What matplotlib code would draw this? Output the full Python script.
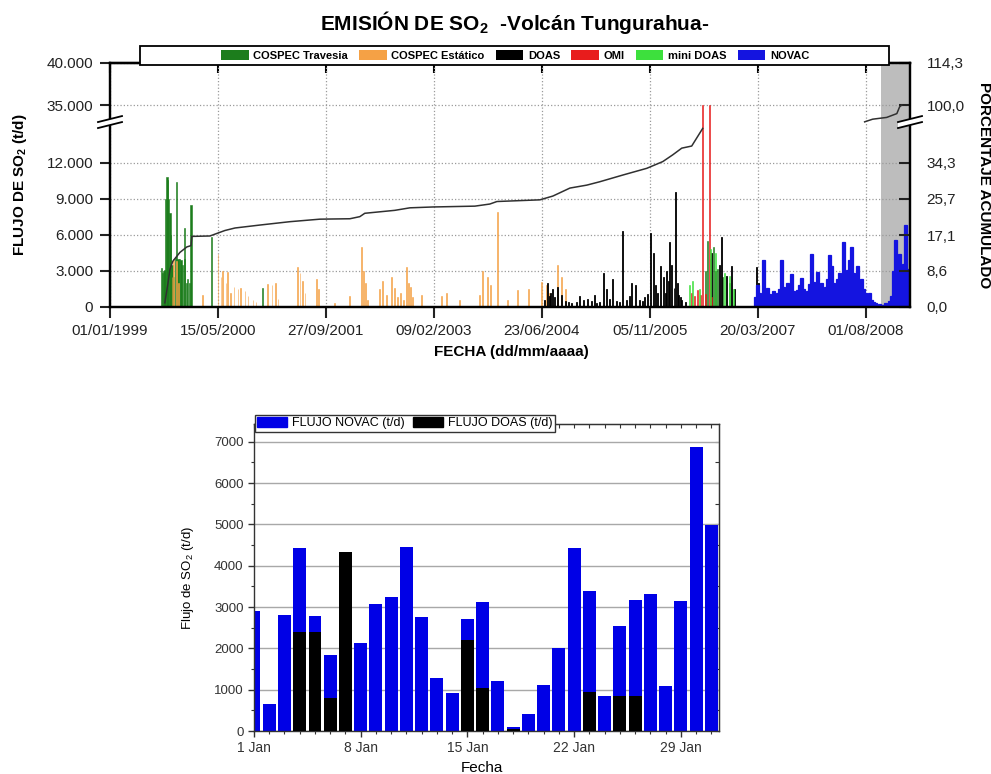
import numpy as np
import pandas as pd
import matplotlib
matplotlib.use('Agg')
import matplotlib.pyplot as plt
import matplotlib.dates as mdates
from matplotlib.patches import Patch, Rectangle, Polygon
from matplotlib.ticker import FixedLocator, MultipleLocator, NullFormatter

plt.rcParams['font.family'] = ['Liberation Sans', 'DejaVu Sans']
plt.rcParams['mathtext.fontset'] = 'custom'
plt.rcParams['mathtext.rm'] = 'Liberation Sans'
plt.rcParams['mathtext.bf'] = 'Liberation Sans:bold'
plt.rcParams['mathtext.it'] = 'Liberation Sans:italic'

# ---------------- serie historica (t/d) ----------------
travesia_fechas = ['1999-08-29', '1999-09-03', '1999-09-08', '1999-09-12', '1999-09-17', '1999-09-22',
                   '1999-09-26', '1999-10-01', '1999-10-06', '1999-10-10', '1999-10-15', '1999-10-24',
                   '1999-10-30', '1999-11-05', '1999-11-12', '1999-11-19', '1999-11-26', '1999-12-03',
                   '1999-12-10', '1999-12-14', '1999-12-20', '1999-12-28', '2000-01-06', '2000-01-11',
                   '2000-04-17', '2000-12-09', '2006-07-22', '2006-07-31', '2006-08-14', '2006-08-28',
                   '2006-09-16', '2006-10-09', '2006-11-10']
travesia_flujo = [3250, 2800, 3000, 3100, 9000, 10800, 10600, 9000, 7800, 6000, 3500, 2500,
                  4200, 10400, 4000, 4000, 3900, 3500, 6600, 4000, 2000, 2300, 2000, 8500,
                  5800, 1600, 3000, 5500, 4000, 5000, 3200, 2500, 2000]

estatico_fechas = ['1999-10-15', '1999-10-24', '1999-11-03', '1999-11-16', '2000-03-06', '2000-05-15',
                   '2000-05-29', '2000-06-07', '2000-06-21', '2000-06-30', '2000-07-14', '2000-07-28',
                   '2000-08-16', '2000-08-29', '2000-09-17', '2000-10-01', '2000-10-24', '2000-11-07',
                   '2001-01-01', '2001-01-20', '2001-02-07', '2001-02-17', '2001-05-20', '2001-05-30',
                   '2001-06-12', '2001-06-22', '2001-08-16', '2001-08-25', '2001-11-07', '2002-01-16',
                   '2002-03-12', '2002-03-22', '2002-03-31', '2002-04-09', '2002-06-04', '2002-06-18',
                   '2002-07-06', '2002-07-29', '2002-08-12', '2002-08-26', '2002-09-09', '2002-09-23',
                   '2002-10-07', '2002-10-16', '2002-10-25', '2002-11-03', '2002-12-15', '2003-03-18',
                   '2003-04-10', '2003-06-09', '2003-09-10', '2003-09-24', '2003-10-17', '2003-10-31',
                   '2003-12-02', '2004-01-17', '2004-03-04', '2004-04-24', '2004-06-23', '2004-07-16',
                   '2004-07-30', '2004-09-05', '2004-09-24', '2004-10-12']
estatico_flujo = [2500, 4000, 3800, 2000, 1000, 4400, 2500, 3000, 2000, 2900, 1200, 1700,
                  1500, 1600, 1300, 900, 600, 400, 1900, 1800, 2000, 700, 3300, 2800,
                  2200, 1200, 2300, 1500, 300, 900, 5000, 3000, 2000, 600, 1500, 2200,
                  1000, 2500, 1600, 800, 1200, 600, 3300, 2000, 1700, 800, 1000, 900,
                  1200, 600, 1000, 3000, 2500, 1800, 7950, 600, 1400, 1500, 2100, 1800,
                  1200, 3500, 2500, 1500]

doas_fechas = ['2004-07-07', '2004-07-21', '2004-07-28', '2004-08-04', '2004-08-13', '2004-08-22',
               '2004-09-05', '2004-09-24', '2004-10-12', '2004-10-25', '2004-11-09', '2004-12-02',
               '2004-12-16', '2005-01-03', '2005-01-22', '2005-02-09', '2005-02-23', '2005-03-05',
               '2005-03-18', '2005-04-06', '2005-04-20', '2005-05-02', '2005-05-18', '2005-06-05',
               '2005-06-18', '2005-07-03', '2005-07-21', '2005-08-01', '2005-08-14', '2005-09-01',
               '2005-09-20', '2005-10-01', '2005-10-13', '2005-10-25', '2005-11-10', '2005-11-23',
               '2005-12-01', '2005-12-12', '2005-12-26', '2006-01-09', '2006-01-16', '2006-01-23',
               '2006-01-30', '2006-02-06', '2006-02-15', '2006-02-25', '2006-03-05', '2006-03-12',
               '2006-03-19', '2006-03-27', '2006-04-02', '2006-04-21', '2006-08-19', '2006-09-07',
               '2006-09-25', '2006-10-04', '2006-10-27', '2006-11-20', '2006-12-03', '2007-03-15',
               '2007-03-25', '2007-04-21']
doas_flujo = [600, 2000, 900, 1200, 1500, 800,
              1700, 1000, 500, 400, 300, 400,
              900, 600, 700, 500, 1000, 300,
              400, 2800, 1500, 700, 2300, 500,
              400, 6300, 600, 900, 2000, 1800,
              600, 500, 800, 1100, 6200, 4500,
              1800, 1200, 3400, 2500, 1200, 3000,
              2200, 5400, 3500, 1600, 9600, 2000,
              1000, 800, 600, 400, 4500, 3000,
              3500, 5800, 2600, 3400, 1500, 3300,
              2000, 3800]

omi_fechas = ['2006-05-18', '2006-06-01', '2006-06-15', '2006-06-29', '2006-07-08', '2006-07-22',
              '2006-08-10', '2006-08-19']
omi_flujo = [1200, 900, 1400, 1000, 35000, 1100, 35000, 800]

minidoas_fechas = ['2006-05-09', '2006-05-23', '2006-06-24', '2006-08-12', '2006-09-06', '2006-10-17',
                   '2006-11-09', '2006-11-28']
minidoas_flujo = [1800, 2200, 1500, 4800, 4500, 2800, 2600, 1500]

novac_inicio, novac_fin = '2007-03-10', '2009-02-20'
novac_flujo = [800, 1800, 1200, 1000, 3900, 1400, 1600, 1100, 900, 1300,
               1000, 1200, 1500, 3900, 1700, 1200, 2000, 1500, 2750, 1300,
               1000, 1400, 1800, 2400, 1500, 1100, 1300, 1900, 4400, 2100,
               1600, 2900, 1500, 2000, 1300, 1700, 2300, 4300, 3400, 2000,
               1600, 2300, 2800, 2000, 5400, 2600, 3100, 3900, 5000, 2800,
               2400, 3400, 2000, 2300, 1500, 1200, 1000, 1200, 600, 400,
               300, 200, 250, 150, 200, 300, 250, 500, 900, 3000,
               5600, 2500, 4400, 3000, 3600, 6850, 3200, 2800]

# porcentaje acumulado (%), dos tramos a cada lado del corte
acum_a_fechas = ['1999-09-12', '1999-09-26', '1999-10-06', '1999-10-19', '1999-11-21', '1999-12-23',
                 '2000-01-11', '2000-01-15', '2000-04-08', '2000-05-15', '2000-06-16', '2000-08-02',
                 '2000-11-25', '2001-04-13', '2001-08-30', '2002-01-16', '2002-03-03', '2002-03-26',
                 '2002-08-12', '2002-10-21', '2003-02-04', '2003-08-18', '2003-10-26', '2003-11-28',
                 '2004-06-14', '2004-08-13', '2004-10-31', '2005-01-17', '2005-03-18', '2005-07-03',
                 '2005-10-22', '2006-01-04', '2006-02-19', '2006-04-02', '2006-05-18', '2006-07-08']
acum_a = [1.0, 5.5, 9.0, 10.9, 13.0, 14.3, 14.6, 16.8, 16.9, 17.6, 18.2, 18.8,
          19.5, 20.3, 20.9, 21.0, 21.5, 22.3, 23.0, 23.6, 23.8, 24.0, 24.5, 25.1,
          25.5, 26.4, 28.3, 29.0, 29.8, 31.4, 33.0, 34.6, 36.2, 37.8, 38.3, 42.5]
acum_b_fechas = ['2008-07-27', '2008-09-02', '2008-11-06', '2008-12-23', '2009-01-05', '2009-01-15']
acum_b = [94.3, 95.2, 95.8, 97.1, 99.4, 100.0]

fechas_ticks = ['01/01/1999', '15/05/2000', '27/09/2001', '09/02/2003',
                '23/06/2004', '05/11/2005', '20/03/2007', '01/08/2008']
flujo_ticks = [0, 3000, 6000, 9000, 12000, 35000, 40000]
flujo_labels = ['0', '3.000', '6.000', '9.000', '12.000', '35.000', '40.000']
pct_ticks = [0, 8.6, 17.1, 25.7, 34.3, 100.0, 114.3]
pct_labels = ['0,0', '8,6', '17,1', '25,7', '34,3', '100,0', '114,3']

series = ['COSPEC Travesia', 'COSPEC Estático', 'DOAS', 'OMI', 'mini DOAS', 'NOVAC']
colores = ['#1c7d1c', '#f5a145', '#000000', '#e81c1c', '#3de03d', '#1414e0']

# ---------------- enero (t/d) ----------------
dias = pd.date_range('2009-01-01', '2009-01-31')
enero_novac = [2900, 650, 2810, 4420, 2785, 1840, 0, 2120, 3075, 3250, 4460, 2750, 1275, 930, 2710,
               3130, 1220, 90, 410, 1115, 2000, 4440, 3400, 850, 2550, 3160, 3325, 1090, 3150, 6870, 4990]
enero_doas = [0, 0, 0, 2400, 2400, 800, 4340, 0, 0, 0, 0, 0, 0, 0, 2200,
              1030, 0, 60, 0, 0, 0, 0, 945, 0, 850, 850, 0, 0, 0, 0, 0]
enero_ticks = ['1 Jan', '8 Jan', '15 Jan', '22 Jan', '29 Jan']


def num(fechas, **kw):
    return mdates.date2num(pd.to_datetime(fechas, **kw))


# eje Y con corte entre 15.400 y 33.000 t/d
B1, B2, EPS, K = 15400.0, 33000.0, 1e-3, 0.7
U0 = B1 + (B2 - B1) * EPS


def fwd(v):
    v = np.asarray(v, dtype=float)
    return np.where(v <= B1, v, np.where(v < B2, B1 + (v - B1) * EPS, U0 + (v - B2) * K))


def inv(u):
    u = np.asarray(u, dtype=float)
    return np.where(u <= B1, u, np.where(u < U0, B1 + (u - B1) / EPS, B2 + (u - U0) / K))


FACTOR = 350.0  # t/d por punto porcentual


def fwd_pct(p):
    return fwd(np.asarray(p, dtype=float) * FACTOR)


def inv_pct(u):
    return inv(u) / FACTOR


fig = plt.figure(figsize=(9.91, 7.74), dpi=100)
fig.patch.set_facecolor('white')

ax = fig.add_axes([110 / 991, 1 - 307 / 774, 800 / 991, 244 / 774])
ax.set_yscale('function', functions=(fwd, inv))
ax.set_ylim(0, 40000)
ax.set_xlim(num('1999-01-01'), num('2009-02-22'))
ax.axvspan(num('2008-10-13'), num('2009-02-22'), color='#bdbdbd', lw=0, zorder=0.3)


def barras(fechas, valores, color, ancho, borde=0.4):
    ax.bar(num(fechas), valores, width=ancho, color=color, edgecolor=color, linewidth=borde, zorder=2)


barras(travesia_fechas, travesia_flujo, colores[0], 5)
barras(estatico_fechas, estatico_flujo, colores[1], 4)
barras(doas_fechas, doas_flujo, colores[2], 4, 0.6)
barras(omi_fechas, omi_flujo, colores[3], 4)
barras(minidoas_fechas, minidoas_flujo, colores[4], 4)
novac_fechas = pd.date_range(novac_inicio, novac_fin, periods=len(novac_flujo))
barras(novac_fechas, novac_flujo, colores[5], 12, 0.9)

ax.xaxis.set_major_locator(FixedLocator(num(fechas_ticks, dayfirst=True)))
ax.set_xticklabels(fechas_ticks)
ax.yaxis.set_major_locator(FixedLocator(flujo_ticks))
ax.yaxis.set_minor_locator(FixedLocator([]))
ax.set_yticklabels(flujo_labels)
ax.grid(True, which='major', ls=':', color='#9a9a9a', lw=0.9)
ax.set_axisbelow(True)
ax.tick_params(axis='y', direction='out', length=7, width=1.5, labelsize=11, pad=5, colors='#222222')
ax.tick_params(axis='x', direction='out', length=8, width=1.5, labelsize=11, pad=4, colors='#222222')
for s in ax.spines.values():
    s.set_linewidth(1.6)

top = ax.secondary_xaxis('top')
top.xaxis.set_major_locator(FixedLocator(num(fechas_ticks, dayfirst=True)))
top.xaxis.set_major_formatter(NullFormatter())
top.tick_params(direction='in', length=7, width=1.5)
top.spines['top'].set_linewidth(1.6)

ax2 = ax.twinx()
ax2.set_yscale('function', functions=(fwd_pct, inv_pct))
ax2.set_ylim(0, 114.3)
ax2.plot(num(acum_a_fechas), acum_a, color='#303030', lw=1.1, zorder=3)
ax2.plot(num(acum_b_fechas), acum_b, color='#303030', lw=1.1, zorder=3)
ax2.yaxis.set_major_locator(FixedLocator(pct_ticks))
ax2.yaxis.set_minor_locator(FixedLocator([]))
ax2.set_yticklabels(pct_labels)
ax2.tick_params(axis='y', direction='in', length=8, width=1.5, labelsize=11, pad=12, colors='#222222')
for s in ax2.spines.values():
    s.set_linewidth(1.6)

# marcas de corte // sobre los ejes
yb = float(fwd(B1) / fwd(40000))
dx, dy, g = 12 / 800, 3 / 244, 3 / 244
for xa in (0.0, 1.0):
    ax2.add_patch(Polygon([[xa - dx, yb - dy - g], [xa + dx, yb + dy - g],
                           [xa + dx, yb + dy + g], [xa - dx, yb - dy + g]],
                          closed=True, transform=ax2.transAxes, facecolor='white',
                          edgecolor='none', clip_on=False, zorder=10))
    for s in (-g, g):
        ax2.plot([xa - dx, xa + dx], [yb - dy + s, yb + dy + s], transform=ax2.transAxes,
                 color='black', lw=1.3, clip_on=False, zorder=11)

fig.add_artist(Rectangle((140 / 991, 1 - 65 / 774), 749 / 991, 19 / 774, transform=fig.transFigure,
                         facecolor='white', edgecolor='black', lw=1.3, zorder=4))
fig.legend(handles=[Patch(facecolor=c, edgecolor='none', label=l) for c, l in zip(colores, series)],
           loc='center', bbox_to_anchor=(515 / 991, 1 - 55.5 / 774), ncol=6, frameon=False,
           prop=dict(weight='bold', size=8), handlelength=2.5, handleheight=0.9,
           handletextpad=0.4, columnspacing=1.0, borderpad=0, borderaxespad=0)

fig.text(515 / 991, 1 - 22 / 774, r'EMISIÓN DE SO$_\mathbf{2}$  -Volcán Tungurahua-',
         ha='center', va='center', fontsize=15, weight='bold')
fig.text(20 / 991, 1 - 185 / 774, r'FLUJO DE SO$_\mathbf{2}$ (t/d)', rotation=90,
         ha='center', va='center', fontsize=11, weight='bold')
fig.text(984 / 991, 1 - 185 / 774, 'PORCENTAJE ACUMULADO', rotation=270,
         ha='center', va='center', fontsize=11, weight='bold')
fig.text(511 / 991, 1 - 352 / 774, 'FECHA (dd/mm/aaaa)', ha='center', va='center',
         fontsize=11, weight='bold')

# ---------------- grafico de enero ----------------
bx = fig.add_axes([254 / 991, 1 - 731 / 774, 465 / 991, 307 / 774])
xd = mdates.date2num(dias)
bx.bar(xd, enero_novac, width=0.85, color='#0000e6', zorder=2)
bx.bar(xd, enero_doas, width=0.85, color='black', zorder=3)
bx.set_xlim(xd[0], xd[-1] + 0.5)
bx.set_ylim(0, 7430)
bx.yaxis.set_major_locator(MultipleLocator(1000))
bx.yaxis.set_minor_locator(MultipleLocator(500))
bx.xaxis.set_major_locator(FixedLocator(xd[::7]))
bx.set_xticklabels(enero_ticks)
bx.xaxis.set_minor_locator(FixedLocator(xd))
bx.grid(True, axis='y', which='major', color='#a8a8a8', lw=1)
bx.set_axisbelow(True)
bx.tick_params(which='major', direction='out', length=4, width=1, labelsize=9.5, colors='#333333')
bx.tick_params(which='minor', direction='out', length=2.5, width=0.8, colors='#333333')
bx.tick_params(axis='x', labelsize=10)
for s in bx.spines.values():
    s.set_linewidth(1)
    s.set_color('#333333')

bt = bx.secondary_xaxis('top')
bt.xaxis.set_major_locator(FixedLocator(xd))
bt.xaxis.set_major_formatter(NullFormatter())
bt.tick_params(direction='in', length=3, width=0.8, colors='#333333')
bt.spines['top'].set_color('#333333')
br = bx.secondary_yaxis('right')
br.yaxis.set_major_locator(MultipleLocator(500))
br.yaxis.set_major_formatter(NullFormatter())
br.tick_params(direction='in', length=3, width=0.8, colors='#333333')
br.spines['right'].set_color('#333333')

leg = bx.legend(handles=[Patch(color='#0000e6', label='FLUJO NOVAC (t/d)'),
                         Patch(color='black', label='FLUJO DOAS (t/d)')],
                loc='upper left', bbox_to_anchor=(0.002, 1.03), ncol=2, fancybox=False,
                edgecolor='#333333', framealpha=1, fontsize=9, handlelength=2.4,
                handleheight=0.8, handletextpad=0.4, columnspacing=0.6, borderpad=0.2,
                borderaxespad=0)
leg.get_frame().set_linewidth(1)

fig.text(188 / 991, 1 - 578 / 774, r'Flujo de SO$_2$ (t/d)', rotation=90,
         ha='center', va='center', fontsize=9.5)
fig.text(482 / 991, 1 - 768 / 774, 'Fecha', ha='center', va='center', fontsize=11)

fig.savefig('out.png', dpi=100)
